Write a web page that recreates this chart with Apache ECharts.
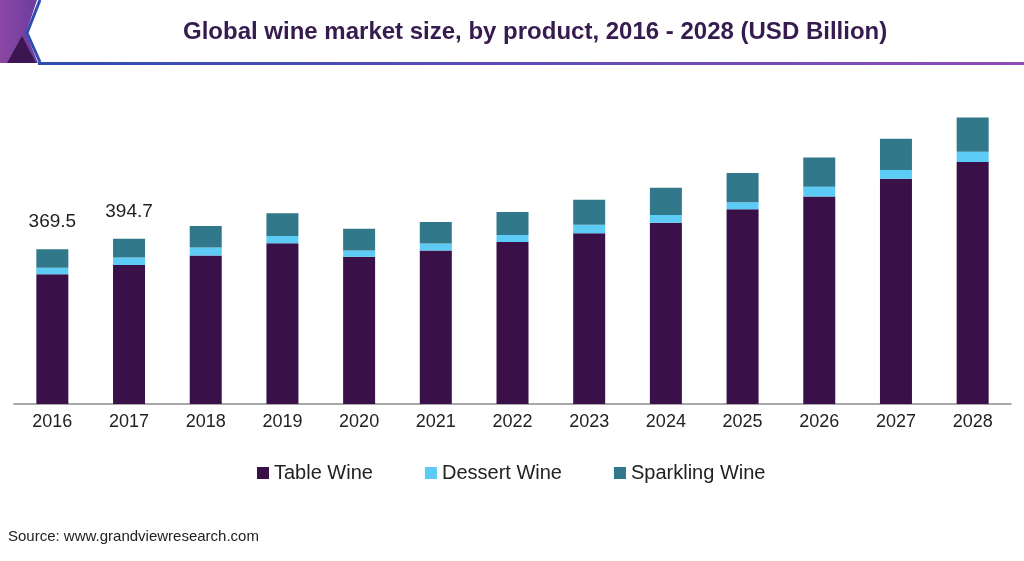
<!DOCTYPE html>
<html>
<head>
<meta charset="utf-8">
<title>Global wine market size</title>
<script src="https://cdn.jsdelivr.net/npm/echarts/dist/echarts.min.js"></script>
<style>
  html, body { margin: 0; padding: 0; background: #fff; }
  #chart { width: 1024px; height: 561px; }
</style>
</head>
<body>
<div id="chart"></div>
<script>
// chart data (USD Billion)
var years = ['2016', '2017', '2018', '2019', '2020', '2021', '2022',
             '2023', '2024', '2025', '2026', '2027', '2028'];
var tableWine = [310, 332, 355, 384, 352, 366.5, 387, 408, 433, 465, 496, 538, 578];
var dessertWine = [15.5, 18, 19, 17.5, 15, 16.7, 16.7, 20, 18.4, 16.7, 23, 20.8, 24.6];
var sparklingWine = [44, 44.7, 51, 54, 51.6, 51.8, 55, 60, 65, 70, 70, 75, 82];
// only the first two totals are printed on the chart
var totalLabels = ['369.5', '394.7', '', '', '', '', '', '', '', '', '', '', ''];

var FONT = 'Arial, Liberation Sans, sans-serif';

var myChart = echarts.init(document.getElementById('chart'));

var option = {
    backgroundColor: '#ffffff',
    animation: false,
    title: {
        text: 'Global wine market size, by product, 2016 - 2028 (USD Billion)',
        left: 183,
        top: 20,
        padding: 0,
        textStyle: {
            fontFamily: FONT,
            fontSize: 24,
            fontWeight: 'bold',
            color: '#361b4f'
        }
    },
    legend: {
        left: 252,
        top: 458,
        icon: 'rect',
        itemWidth: 12,
        itemHeight: 12,
        itemGap: 52,
        textStyle: { fontFamily: FONT, fontSize: 20, color: '#222' },
        data: ['Table Wine', 'Dessert Wine', 'Sparkling Wine']
    },
    grid: { left: 14, right: 13, top: 111, bottom: 157 },
    xAxis: {
        type: 'category',
        data: years,
        axisTick: { show: false },
        axisLine: { lineStyle: { color: '#8c8c8c', width: 1.5 } },
        axisLabel: { margin: 9, fontFamily: FONT, fontSize: 18, color: '#222' }
    },
    yAxis: {
        type: 'value',
        min: 0,
        max: 700,
        show: false,
        splitLine: { show: false }
    },
    series: [
        {
            name: 'Table Wine',
            type: 'bar',
            stack: 'total',
            barWidth: 32,
            itemStyle: { color: '#3a1048' },
            data: tableWine
        },
        {
            name: 'Dessert Wine',
            type: 'bar',
            stack: 'total',
            barWidth: 32,
            itemStyle: { color: '#5ccbf6' },
            data: dessertWine
        },
        {
            name: 'Sparkling Wine',
            type: 'bar',
            stack: 'total',
            barWidth: 32,
            itemStyle: { color: '#31788a' },
            label: {
                show: true,
                position: 'top',
                distance: 18,
                fontFamily: FONT,
                fontSize: 19,
                color: '#222',
                formatter: function (p) {
                    return totalLabels[p.dataIndex];
                }
            },
            data: sparklingWine
        }
    ],
    graphic: [
        // header decoration, top-left corner
        {
            type: 'polygon',
            shape: { points: [[0, 0], [37, 0], [26, 33], [38, 63], [0, 63]] },
            style: {
                fill: new echarts.graphic.LinearGradient(0, 0, 1, 0, [
                    { offset: 0, color: '#8d47a4' },
                    { offset: 1, color: '#6a3c9e' }
                ])
            }
        },
        {
            type: 'polygon',
            shape: { points: [[22, 36], [7, 63], [36, 63]] },
            style: { fill: '#3b1650' }
        },
        {
            type: 'polyline',
            shape: { points: [[40, 0], [27, 33], [40, 62]] },
            style: { stroke: '#2f4db0', lineWidth: 3, fill: null }
        },
        {
            type: 'rect',
            shape: { x: 38, y: 62, width: 986, height: 3 },
            style: {
                fill: new echarts.graphic.LinearGradient(0, 0, 1, 0, [
                    { offset: 0, color: '#2f4db0' },
                    { offset: 0.5, color: '#5f4cb6' },
                    { offset: 1, color: '#8e4cb8' }
                ])
            }
        },
        {
            type: 'text',
            left: 8,
            top: 529,
            style: {
                text: 'Source: www.grandviewresearch.com',
                fontFamily: FONT,
                fontSize: 15,
                fill: '#222'
            }
        }
    ]
};

myChart.setOption(option);
</script>
</body>
</html>
